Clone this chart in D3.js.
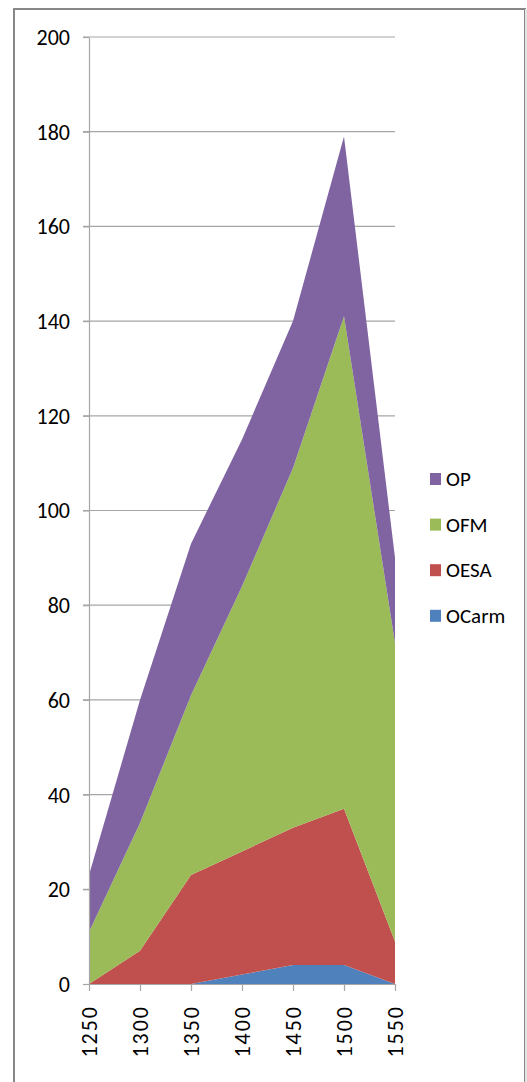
<!DOCTYPE html>
<html>
<head>
  <meta charset="utf-8">
  <script src="https://d3js.org/d3.v7.min.js"></script>
  <style>
    body { margin: 0; background: #fff; }
    text {
      font-family: Carlito, Calibri, 'Liberation Sans', sans-serif;
      font-size: 22px;
      fill: #000;
    }
    .grid line { stroke: #a6a6a6; stroke-width: 1.2px; }
    .axis path, .axis line { stroke: #a6a6a6; stroke-width: 1.2px; }
  </style>
</head>
<body>
<div id="chart"></div>
<script>
  // categories (years) and per-order counts
  var years  = ["1250", "1300", "1350", "1400", "1450", "1500", "1550"];
  var ocarm  = [0, 0, 0, 2, 4, 4, 0];
  var oesa   = [0, 7, 23, 26, 29, 33, 9];
  var ofm    = [11, 27, 38, 56, 76, 104, 63];
  var op     = [12, 26, 32, 31, 31, 38, 18];
  var yTicks = [0, 20, 40, 60, 80, 100, 120, 140, 160, 180, 200];

  var seriesKeys = ["OCarm", "OESA", "OFM", "OP"];
  var colors = { OCarm: "#4f81bd", OESA: "#c0504d", OFM: "#9bbb59", OP: "#8064a2" };

  var rows = years.map(function(y, i) {
    return { year: y, OCarm: ocarm[i], OESA: oesa[i], OFM: ofm[i], OP: op[i] };
  });

  var W = 527, H = 1082;
  var svg = d3.select("#chart").append("svg")
      .attr("width", W)
      .attr("height", H);

  // outer chart border
  svg.append("rect")
      .attr("x", 14).attr("y", 9)
      .attr("width", 511).attr("height", H)
      .attr("fill", "none")
      .attr("stroke", "#878787")
      .attr("stroke-width", 2);
  svg.append("line")
      .attr("x1", 526).attr("x2", 526).attr("y1", 9).attr("y2", H)
      .attr("stroke", "#e4e4e4").attr("stroke-width", 2);

  var x = d3.scalePoint().domain(years).range([89, 395]).padding(0);
  var y = d3.scaleLinear().domain([0, 200]).range([984, 37]);

  // gridlines
  svg.append("g").attr("class", "grid")
    .selectAll("line")
    .data(yTicks.filter(function(d) { return d > 0; }))
    .enter().append("line")
      .attr("x1", 83).attr("x2", 395)
      .attr("y1", function(d) { return y(d); })
      .attr("y2", function(d) { return y(d); });

  // stacked areas
  var stack = d3.stack().keys(seriesKeys);
  var layers = stack(rows);
  var area = d3.area()
      .x(function(d) { return x(d.data.year); })
      .y0(function(d) { return y(d[0]); })
      .y1(function(d) { return y(d[1]); });

  svg.append("g").selectAll("path")
    .data(layers)
    .enter().append("path")
      .attr("d", area)
      .attr("fill", function(d) { return colors[d.key]; });

  // y axis
  var yAxis = svg.append("g").attr("class", "axis")
      .attr("transform", "translate(89,0)")
      .call(d3.axisLeft(y).tickValues(yTicks).tickSize(6).tickPadding(13).tickSizeOuter(0));
  yAxis.selectAll("text").style("font-size", "22px").attr("dy", "0.34em");

  // x axis
  var xAxis = svg.append("g").attr("class", "axis")
      .attr("transform", "translate(0,984)")
      .call(d3.axisBottom(x).tickSize(7).tickSizeOuter(0));
  xAxis.selectAll("text")
      .style("font-size", "22px")
      .style("letter-spacing", "2px")
      .attr("text-anchor", "end")
      .attr("transform", "translate(0,21) rotate(-90)")
      .attr("x", 0).attr("y", 0)
      .attr("dy", "0.34em");

  // legend (top of stack first)
  var legendKeys = seriesKeys.slice().reverse();
  var lg = svg.append("g").selectAll("g")
    .data(legendKeys)
    .enter().append("g")
      .attr("transform", function(d, i) { return "translate(430," + (479 + i * 45.6) + ")"; });
  lg.append("rect")
      .attr("x", 0).attr("y", -6)
      .attr("width", 11).attr("height", 12)
      .attr("fill", function(d) { return colors[d]; });
  lg.append("text")
      .attr("x", 16).attr("y", 0).attr("dy", "0.34em")
      .style("font-size", "21px")
      .text(function(d) { return d; });
</script>
</body>
</html>
